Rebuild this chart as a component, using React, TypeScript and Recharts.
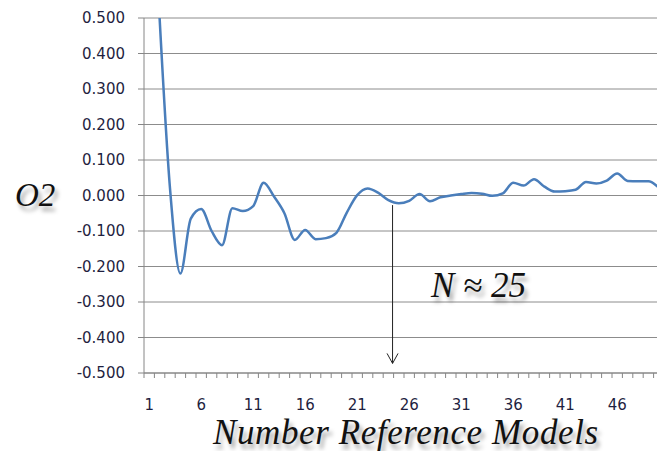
import React from "react";
import { LineChart, Line, XAxis, YAxis, CartesianGrid, ReferenceLine } from "recharts";

// number of reference models (category axis)
const MODELS = [
  1, 2, 3, 4, 5, 6, 7, 8, 9, 10, 11, 12, 13, 14, 15, 16, 17, 18, 19, 20, 21, 22, 23, 24, 25,
  26, 27, 28, 29, 30, 31, 32, 33, 34, 35, 36, 37, 38, 39, 40, 41, 42, 43, 44, 45, 46, 47, 48, 49, 50,
];

// O2 (first point is off the top of the chart)
const O2_VALUES: (number | null)[] = [
  null, 0.5, 0.02, -0.22, -0.065, -0.038, -0.1, -0.14, -0.036, -0.044,
  -0.03, 0.036, -0.003, -0.05, -0.125, -0.097, -0.123, -0.12, -0.105, -0.048,
  0.001, 0.02, 0.008, -0.013, -0.022, -0.015, 0.004, -0.016, -0.005, 0.0,
  0.004, 0.007, 0.005, -0.001, 0.006, 0.036, 0.028, 0.046, 0.025, 0.011,
  0.012, 0.016, 0.038, 0.034, 0.042, 0.062, 0.041, 0.04, 0.04, 0.022,
];

const X_LABEL_TICKS = [1, 6, 11, 16, 21, 26, 31, 36, 41, 46];
const Y_TICKS = [-0.5, -0.4, -0.3, -0.2, -0.1, 0, 0.1, 0.2, 0.3, 0.4, 0.5];

// arrow marking N ≈ 25
const ARROW_X = 24.4;
const ARROW_FROM = -0.027;
const ARROW_TO = -0.473;

const data = MODELS.map((m, i) => ({ x: m, o2: O2_VALUES[i] }));
const boundaries = [MODELS[0] - 0.5, ...MODELS.map((m) => m + 0.5)];
const domain: [number, number] = [boundaries[0], boundaries[boundaries.length - 1]];

const AXIS_GRAY = "#868686";
const TICK_FONT = { fill: "#1f1f3f", fontSize: 15, fontFamily: "DejaVu Sans, sans-serif" };
const SERIF = "'Liberation Serif', 'Times New Roman', serif";
const SHADOW = "3px 5px 4px rgba(0,0,0,0.35)";

const noTick = () => <g />;

const Arrow = (p: any) => {
  const { x1, y1, x2, y2 } = p;
  return (
    <g stroke="#222" strokeWidth={1} fill="none">
      <line x1={x1} y1={y1} x2={x2} y2={y2} />
      <path d={`M${x2 - 5.5},${y2 - 10} L${x2},${y2} L${x2 + 5.5},${y2 - 10}`} />
    </g>
  );
};

export default function App() {
  return (
    <div style={{ position: "absolute", left: 0, top: 0, width: 657, height: 451, overflow: "hidden", background: "#fff" }}>
      <LineChart
        width={664}
        height={451}
        data={data}
        margin={{ top: 18, right: 0, bottom: 40, left: 84 }}
      >
        <CartesianGrid vertical={false} stroke="#8c8c8c" />
        <XAxis
          dataKey="x"
          type="number"
          domain={domain}
          ticks={boundaries}
          interval={0}
          height={10}
          tick={noTick}
          tickSize={5}
          stroke={AXIS_GRAY}
          allowDataOverflow
        />
        <XAxis
          xAxisId="lbl"
          dataKey="x"
          type="number"
          domain={domain}
          ticks={X_LABEL_TICKS}
          interval={0}
          height={28}
          axisLine={false}
          tickLine={false}
          tickSize={0}
          tickMargin={16}
          tick={TICK_FONT}
        />
        <YAxis
          type="number"
          domain={[-0.5, 0.5]}
          ticks={Y_TICKS}
          interval={0}
          width={60}
          tickSize={6}
          tickMargin={13}
          tickFormatter={(v: number) => v.toFixed(3)}
          tick={TICK_FONT}
          stroke={AXIS_GRAY}
          allowDataOverflow
        />
        <Line
          type="monotone"
          dataKey="o2"
          stroke="#4a7ebb"
          strokeWidth={2.5}
          dot={false}
          activeDot={false}
          isAnimationActive={false}
        />
        <ReferenceLine
          segment={[{ x: ARROW_X, y: ARROW_FROM }, { x: ARROW_X, y: ARROW_TO }]}
          shape={Arrow}
        />
      </LineChart>

      {/* annotations */}
      <div style={{ position: "absolute", left: 15, top: 179, fontFamily: SERIF, fontStyle: "italic", fontSize: 33, lineHeight: 1, color: "#111", textShadow: SHADOW }}>
        O2
      </div>
      <div style={{ position: "absolute", left: 431, top: 268, fontFamily: SERIF, fontStyle: "italic", fontSize: 35, lineHeight: 1, color: "#111", textShadow: SHADOW, whiteSpace: "nowrap" }}>
        N ≈ 25
      </div>
      <div style={{ position: "absolute", left: 213, top: 415, fontFamily: SERIF, fontStyle: "italic", fontSize: 35, lineHeight: 1, color: "#111", textShadow: SHADOW, whiteSpace: "nowrap", letterSpacing: 0.6 }}>
        Number Reference Models
      </div>
    </div>
  );
}
